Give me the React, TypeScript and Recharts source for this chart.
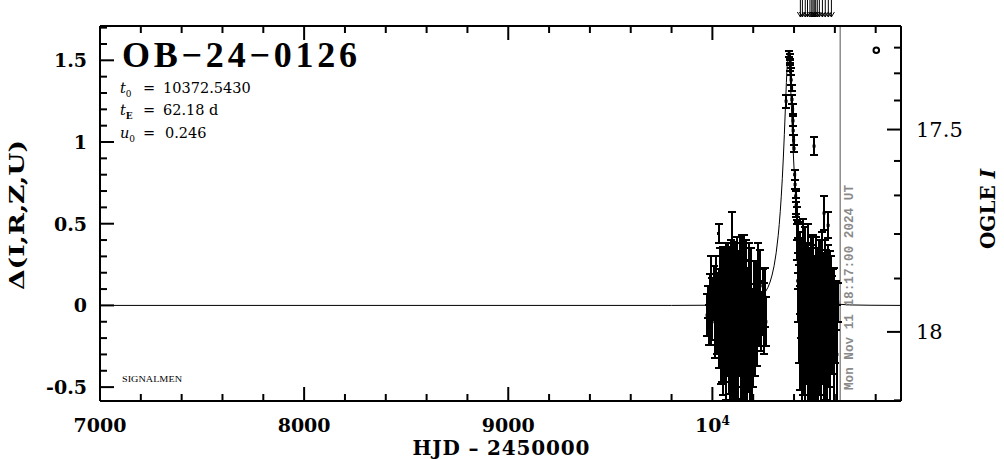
import React from 'react';
import {
  ComposedChart, Scatter, Line, XAxis, YAxis, ErrorBar, ReferenceLine, ReferenceDot,
} from 'recharts';

// ---- axes ----
const X_DOMAIN: [number, number] = [7000, 10924];
const Y_DOMAIN: [number, number] = [-0.585, 1.71];
const xTicks = [7000, 7200, 7400, 7600, 7800, 8000, 8200, 8400, 8600, 8800, 9000, 9200, 9400, 9600, 9800,
  10000, 10200, 10400, 10600, 10800];
const xMajor = [7000, 8000, 9000, 10000];
const yTicks = [-0.5, -0.4, -0.3, -0.2, -0.1, 0, 0.1, 0.2, 0.3, 0.4, 0.5, 0.6, 0.7, 0.8, 0.9, 1, 1.1, 1.2,
  1.3, 1.4, 1.5, 1.6, 1.7];
const yMajor = [-0.5, 0, 0.5, 1, 1.5];
const magTicks = [17.2, 17.3, 17.4, 17.5, 17.6, 17.7, 17.8, 17.9, 18.0, 18.1];
const magMajor = [17.5, 18];

// OGLE I baseline + source fraction, to put magnitude ticks on the Δ scale
const I_BASE = 17.953;
const F_SOURCE = 0.3055;
const magToDelta = (m: number) =>
  2.5 * Math.log10((Math.pow(10, -0.4 * (m - I_BASE)) - (1 - F_SOURCE)) / F_SOURCE);

// ---- event ----
const EVENT = 'OB−24−0126';
const T0 = '10372.5430';
const TE = '62.18 d';
const U0 = '0.246';
const NOW_HJD = 10626.2;
const NOW_TEXT = 'Mon Nov 11 18:17:00 2024 UT';
const alertTimes = [10431, 10441, 10455, 10466, 10478, 10487, 10493, 10499, 10506, 10514, 10524, 10539, 10553, 10568, 10583];
const ogleMarker = { t: 10803, d: 1.562 };

// PSPL model, [HJD, Δ]
const modelCurve: [number, number][] = [
  [7000, 0], [9800, 0], [9972.5, 0.001], [10072.5, 0.003], [10122.5, 0.007], [10172.5, 0.014],
  [10212.5, 0.03], [10242.5, 0.055], [10257.5, 0.078], [10272.5, 0.111], [10282.5, 0.143],
  [10292.5, 0.186], [10302.5, 0.243], [10312.5, 0.322], [10322.5, 0.428], [10327.5, 0.496],
  [10332.5, 0.575], [10337.5, 0.668], [10342.5, 0.776], [10347.5, 0.902], [10352.5, 1.045],
  [10357.5, 1.204], [10362.5, 1.364], [10365, 1.436], [10367.5, 1.494], [10370, 1.533],
  [10372.5, 1.547], [10375, 1.533], [10377.5, 1.494], [10380, 1.436], [10382.5, 1.364],
  [10387.5, 1.204], [10392.5, 1.045], [10397.5, 0.902], [10402.5, 0.776], [10407.5, 0.668],
  [10412.5, 0.575], [10417.5, 0.496], [10422.5, 0.428], [10432.5, 0.322], [10442.5, 0.243],
  [10452.5, 0.186], [10462.5, 0.143], [10472.5, 0.111], [10487.5, 0.078], [10502.5, 0.055],
  [10532.5, 0.03], [10572.5, 0.014], [10622.5, 0.007], [10672.5, 0.003], [10772.5, 0.001], [10924, 0],
];

// observations, [HJD, Δ, σ]
const season1Obs: [number, number, number][] = [
  [9974, -0.06, 0.13], [9978, 0.02, 0.1], [9982, -0.12, 0.12], [9987, 0.05, 0.14], [9995, 0.03, 0.27],
  [10000, -0.02, 0.19], [10006, 0.08, 0.16], [10012, -0.1, 0.22], [10018, 0.12, 0.18], [10024, -0.05, 0.25],
  [10030, 0.44, 0.06], [10033, -0.08, 0.3], [10037, 0.1, 0.25], [10040, -0.2, 0.28], [10044, 0.05, 0.3],
  [10047, -0.15, 0.32], [10051, 0.14, 0.22], [10054, -0.25, 0.3], [10058, 0.02, 0.33], [10061, -0.12, 0.35],
  [10065, 0.18, 0.2], [10068, -0.3, 0.28], [10072, -0.05, 0.38], [10075, 0.12, 0.26], [10079, -0.22, 0.32],
  [10083, 0.0, 0.36], [10086, -0.35, 0.3], [10090, 0.15, 0.25], [10094, 0.2, 0.37], [10097, -0.18, 0.4],
  [10101, -0.4, 0.3], [10105, 0.05, 0.34], [10108, -0.28, 0.36], [10112, 0.1, 0.28], [10116, -0.45, 0.3],
  [10119, -0.1, 0.4], [10123, 0.16, 0.26], [10127, -0.32, 0.35], [10130, -0.05, 0.38], [10134, 0.12, 0.3],
  [10138, -0.38, 0.32], [10141, -0.15, 0.42], [10145, 0.08, 0.35], [10149, -0.5, 0.3], [10152, -0.22, 0.38],
  [10156, 0.15, 0.28], [10160, -0.3, 0.4], [10163, -0.05, 0.33], [10167, 0.1, 0.3], [10171, -0.42, 0.35],
  [10175, -0.15, 0.38], [10178, 0.12, 0.26], [10182, -0.35, 0.38], [10186, -0.08, 0.35], [10190, 0.05, 0.3],
  [10194, -0.45, 0.32], [10198, -0.2, 0.3], [10203, 0.02, 0.25], [10208, -0.15, 0.28], [10213, 0.05, 0.22],
  [10218, -0.12, 0.25], [10223, 0.08, 0.3], [10228, -0.05, 0.2], [10234, 0.12, 0.22], [10240, -0.1, 0.18],
  [10247, 0.02, 0.2], [10253, -0.08, 0.22], [10258, 0.05, 0.18], [10262, -0.1, 0.15],
];

const peakObs: [number, number, number][] = [
  [10361, 1.25, 0.04], [10376, 1.54, 0.02], [10378, 1.52, 0.02], [10381, 1.49, 0.02], [10382, 1.46, 0.025],
  [10383, 1.43, 0.02], [10386, 1.38, 0.03], [10388, 1.33, 0.02], [10390, 1.26, 0.03], [10393, 1.2, 0.03],
  [10395, 1.13, 0.03], [10396, 1.07, 0.03], [10398, 1.01, 0.03], [10400, 0.96, 0.02], [10403, 0.8, 0.03],
  [10405, 0.74, 0.03], [10408, 0.67, 0.04], [10410, 0.61, 0.05], [10412, 0.62, 0.08], [10414, 0.5, 0.1],
  [10415, 0.55, 0.05], [10416, 0.4, 0.12], [10417, 0.46, 0.05], [10420, 0.34, 0.06], [10421, 0.26, 0.06],
];

const season2Obs: [number, number, number][] = [
  [10418, 0.15, 0.25], [10421, 0.3, 0.2], [10424, -0.05, 0.3], [10427, 0.2, 0.25], [10430, -0.2, 0.32],
  [10433, 0.1, 0.3], [10437, -0.3, 0.3], [10440, 0.05, 0.35], [10443, 0.25, 0.28], [10446, -0.15, 0.4],
  [10450, 0.0, 0.35], [10453, -0.4, 0.3], [10456, 0.18, 0.3], [10460, -0.1, 0.38], [10463, 0.08, 0.3],
  [10467, -0.35, 0.35], [10470, 0.22, 0.28], [10474, -0.05, 0.4], [10477, -0.45, 0.3], [10481, 0.12, 0.3],
  [10484, -0.2, 0.38], [10488, 0.05, 0.32], [10491, -0.3, 0.4], [10495, 0.15, 0.28], [10498, 0.975, 0.055],
  [10501, -0.1, 0.4], [10504, -0.5, 0.3], [10508, 0.1, 0.32], [10511, -0.25, 0.38], [10515, 0.0, 0.35],
  [10519, -0.4, 0.35], [10522, 0.12, 0.28], [10525, -0.15, 0.4], [10530, 0.05, 0.35], [10534, -0.35, 0.32],
  [10538, 0.15, 0.3], [10541, -0.08, 0.4], [10545, -0.45, 0.3], [10547, 0.565, 0.105], [10550, 0.1, 0.3],
  [10553, -0.2, 0.38], [10557, 0.02, 0.32], [10561, -0.38, 0.35], [10564, 0.12, 0.25], [10567, 0.49, 0.08],
  [10570, -0.15, 0.35], [10574, 0.05, 0.28], [10578, -0.3, 0.35], [10582, 0.08, 0.22], [10586, -0.12, 0.3],
  [10590, 0.02, 0.2], [10594, -0.25, 0.35], [10598, 0.05, 0.18], [10602, -0.1, 0.25], [10606, 0.0, 0.15],
  [10610, -0.3, 0.3], [10614, 0.02, 0.12],
];

const modelData = modelCurve.map(([t, d]) => ({ t, d }));
const obsData = [...season1Obs, ...peakObs, ...season2Obs].map(([t, d, e]) => ({ t, d, e }));

// error bars cut at the frame, like the plot window does
const clippedErr = (p: { d: number; e: number }) => [
  Math.max(0, Math.min(p.e, p.d - Y_DOMAIN[0])),
  Math.max(0, Math.min(p.e, Y_DOMAIN[1] - p.d)),
];

const near = (v: number, list: number[]) => list.some(a => Math.abs(a - v) < 1e-6);
const tickNum = { fontFamily: 'DejaVu Serif', fontWeight: 'bold' as const, fontSize: 19, fill: '#000' };
const BIG = 14;
const SMALL = 7;

function BottomTick({ x, y, payload }: any) {
  const v = payload.value;
  const major = near(v, xMajor);
  return (
    <g>
      <line x1={x} y1={y} x2={x} y2={y - (major ? BIG : SMALL)} stroke="#000" strokeWidth={2} />
      {major && (
        <text x={x} y={y + 31} textAnchor="middle" style={tickNum}>
          {v === 10000 ? <>10<tspan dy={-7} fontSize={12}>4</tspan></> : v}
        </text>
      )}
    </g>
  );
}

function TopTick({ x, y, payload }: any) {
  const major = near(payload.value, xMajor);
  return <line x1={x} y1={y} x2={x} y2={y + (major ? BIG : SMALL)} stroke="#000" strokeWidth={2} />;
}

function LeftTick({ x, y, payload }: any) {
  const v = payload.value;
  const major = near(v, yMajor);
  return (
    <g>
      <line x1={x} y1={y} x2={x + (major ? BIG : SMALL)} y2={y} stroke="#000" strokeWidth={2} />
      {major && (
        <text x={x - 13} y={y} textAnchor="end" dominantBaseline="central" style={tickNum}>{String(v)}</text>
      )}
    </g>
  );
}

function RightTick({ x, y, index }: any) {
  const m = magTicks[index];
  const major = near(m, magMajor);
  return (
    <g>
      <line x1={x} y1={y} x2={x - (major ? BIG : SMALL)} y2={y} stroke="#000" strokeWidth={2} />
      {major && (
        <text x={x + 15} y={y} dominantBaseline="central"
          style={{ fontFamily: 'DejaVu Serif', fontSize: 21, fill: '#000' }}>
          {m === 18 ? '18' : m.toFixed(1)}
        </text>
      )}
    </g>
  );
}

function ObsDot({ cx, cy }: any) {
  return <rect x={cx - 1.5} y={cy - 1.5} width={3} height={3} fill="#000" />;
}

function AlertArrow(p: any) {
  const top = Math.min(p.y1, p.y2);
  const x = p.x1;
  return (
    <g>
      <line x1={x} y1={top - 26} x2={x} y2={top - 9} stroke="#000" strokeWidth={1} />
      <polyline points={`${x - 3},${top - 14} ${x},${top - 9} ${x + 3},${top - 14}`} fill="none" stroke="#000" strokeWidth={1} />
    </g>
  );
}

const frame = { stroke: '#000', strokeWidth: 2 };
const serif = 'DejaVu Serif';

export default function App() {
  return (
    <div style={{ position: 'absolute', left: 0, top: 0, width: 1004, height: 459, background: '#fff' }}>
      <ComposedChart width={1004} height={459} margin={{ top: 0, right: 0, bottom: 0, left: 0 }}>
        <XAxis xAxisId="bottom" dataKey="t" type="number" domain={X_DOMAIN} allowDataOverflow
          ticks={xTicks} interval={0} tickSize={0} tickMargin={0} tickLine={false} tick={BottomTick}
          height={58} axisLine={frame} />
        <XAxis xAxisId="top" orientation="top" dataKey="t" type="number" domain={X_DOMAIN} allowDataOverflow
          ticks={xTicks} interval={0} tickSize={0} tickMargin={0} tickLine={false} tick={TopTick}
          height={26} axisLine={frame} />
        <YAxis yAxisId="left" type="number" domain={Y_DOMAIN} allowDataOverflow
          ticks={yTicks} interval={0} tickSize={0} tickMargin={0} tickLine={false} tick={LeftTick}
          width={100} axisLine={frame} />
        <YAxis yAxisId="right" orientation="right" type="number" domain={Y_DOMAIN} allowDataOverflow
          ticks={magTicks.map(magToDelta)} interval={0} tickSize={0} tickMargin={0} tickLine={false}
          tick={RightTick} width={103} axisLine={frame} />

        <ReferenceLine xAxisId="bottom" yAxisId="left" x={NOW_HJD} stroke="#8c8c8c" strokeWidth={1.5} />
        {alertTimes.map(t => (
          <ReferenceLine key={t} xAxisId="bottom" yAxisId="left" x={t} ifOverflow="visible" shape={AlertArrow} />
        ))}

        <Line xAxisId="bottom" yAxisId="left" data={modelData} dataKey="d" stroke="#000" strokeWidth={1}
          dot={false} isAnimationActive={false} />
        <Scatter xAxisId="bottom" yAxisId="left" data={obsData} dataKey="d" shape={ObsDot} isAnimationActive={false}>
          <ErrorBar dataKey={clippedErr} direction="y" width={4} stroke="#000" strokeWidth={2}
            shapeRendering="crispEdges" />
        </Scatter>

        <ReferenceDot xAxisId="bottom" yAxisId="left" x={ogleMarker.t} y={ogleMarker.d} r={2.8}
          fill="#fff" stroke="#000" strokeWidth={2} ifOverflow="visible" />
      </ComposedChart>

      <svg width={1004} height={459} style={{ position: 'absolute', left: 0, top: 0, pointerEvents: 'none' }}>
        <text x={122} y={67} textLength={235} lengthAdjust="spacing"
          style={{ fontFamily: 'Liberation Serif', fontWeight: 'bold', fontSize: 36 }}>{EVENT}</text>

        <g style={{ fontFamily: serif, fontSize: 14.5 }}>
          <text x={120} y={93}>
            <tspan fontStyle="italic">t</tspan><tspan dy={4} fontSize={9}>0</tspan>
            <tspan x={143} dy={-4}>=</tspan><tspan x={163}>{T0}</tspan>
          </text>
          <text x={120} y={115}>
            <tspan fontStyle="italic">t</tspan><tspan dy={4} fontSize={9} fontWeight="bold">E</tspan>
            <tspan x={143} dy={-4}>=</tspan><tspan x={163}>{TE}</tspan>
          </text>
          <text x={120} y={138}>
            <tspan fontStyle="italic">u</tspan><tspan dy={4} fontSize={9}>0</tspan>
            <tspan x={143} dy={-4}>=</tspan><tspan x={165}>{U0}</tspan>
          </text>
        </g>

        <text x={122} y={382} textLength={60} lengthAdjust="spacingAndGlyphs"
          style={{ fontFamily: 'Liberation Serif', fontSize: 9 }}>SIGNALMEN</text>

        <text transform="translate(853,390) rotate(-90)" textLength={205} lengthAdjust="spacingAndGlyphs"
          style={{ fontFamily: 'Liberation Mono', fontWeight: 'bold', fontSize: 12.5, fill: '#8a8a8a' }}>
          {NOW_TEXT}
        </text>

        <text transform="translate(16,215) rotate(-90)" textAnchor="middle" dominantBaseline="central"
          textLength={150} lengthAdjust="spacingAndGlyphs"
          style={{ fontFamily: serif, fontWeight: 'bold', fontSize: 21 }}>Δ(I,R,Z,U)</text>

        <text x={501} y={455} textAnchor="middle" textLength={177} lengthAdjust="spacing"
          style={{ fontFamily: serif, fontWeight: 'bold', fontSize: 20 }}>HJD – 2450000</text>

        <text transform="translate(988,209) rotate(-90)" textAnchor="middle" dominantBaseline="central"
          style={{ fontFamily: serif, fontWeight: 'bold', fontSize: 20 }}>
          OGLE <tspan fontStyle="italic">I</tspan>
        </text>
      </svg>
    </div>
  );
}
